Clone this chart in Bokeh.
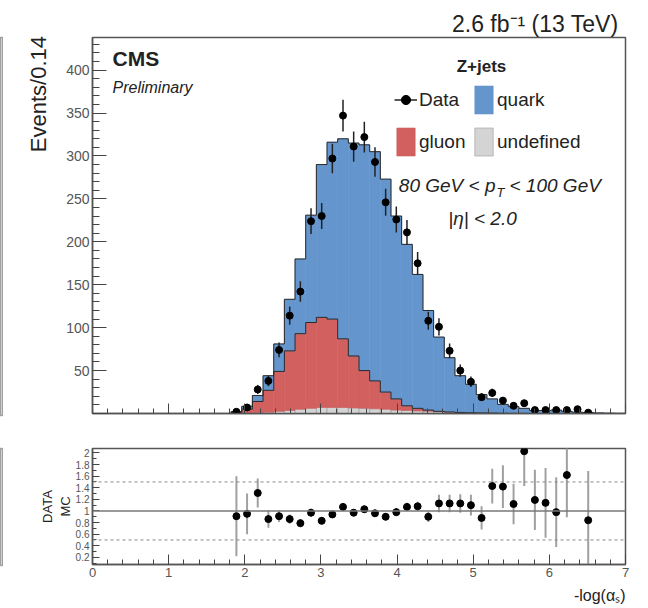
import math
import numpy as np
from bokeh.plotting import figure
from bokeh.layouts import column, row
from bokeh.models import (Label, Legend, LegendItem, FixedTicker, Title,
                          SingleIntervalTicker, Span, Range1d)
from bokeh.embed import file_html
from bokeh.resources import INLINE

FONT = "Liberation Sans"
BLUE = "#6496cd"
RED = "#d2605f"
GRAY = "#d4d4d4"

# ---------------- data (50 bins of width 0.14 on [0, 7]) ----------------
bin_width = 0.14
n_bins = 50
nan = float("nan")

data_counts = [0] * 13 + [
    2, 7, 28, 38, 74, 114, 142, 224, 230, 297,
    347, 311, 322, 293, 246, 226, 211, 175, 108, 101,
    73, 50, 37, 19, 24, 15, 9, 12, 4, 4,
    4, 4, 5, 1] + [0] * 3

quark = [0] * 13 + [
    1.2, 3.4, 7, 17, 32, 60, 87, 125, 178, 206,
    233, 248, 263, 267, 248, 213, 188, 156, 116, 86.5,
    63.2, 42.8, 33.1, 21.3, 16.5, 10.3, 7.8, 5.8, 3.3, 3.4,
    3.9, 2.4, 1.5, 1.2, 0.6, 0.3, 0.1]

gluon = [0] * 13 + [
    0.8, 4.5, 13, 25.5, 46.5, 69.5, 88, 100, 105, 103,
    80, 60.5, 44, 32.5, 20, 13, 5.5, 3, 1.5, 0.5,
    0.3, 0.2, 0.1, 0.1, 0.1, 0, 0, 0, 0, 0,
    0, 0, 0, 0, 0, 0, 0]

undefined = [0] * 13 + [
    0.2, 0.5, 1, 1.5, 2.5, 3.5, 5, 6, 7, 7,
    7, 6.5, 6, 5.5, 5, 4, 3.5, 3, 2.5, 2,
    1.5, 1, 0.8, 0.6, 0.4, 0.3, 0.2, 0.2, 0.1, 0.1,
    0.1, 0.1, 0, 0, 0, 0, 0]

ratio = [nan] * 13 + [
    0.91, 0.95, 1.31, 0.86, 0.91, 0.86, 0.79, 0.97, 0.83, 0.94,
    1.07, 0.97, 1.03, 0.96, 0.90, 0.98, 1.07, 1.08, 0.90, 1.13,
    1.13, 1.13, 1.10, 0.88, 1.43, 1.42, 1.12, 2.03, 1.19, 1.14,
    0.98, 1.62, nan, 0.84] + [nan] * 3

ratio_err = [nan] * 13 + [
    0.69, 0.35, 0.25, 0.15, 0.10, 0.08, 0.07, 0.07, 0.06, 0.06,
    0.06, 0.06, 0.06, 0.06, 0.06, 0.07, 0.07, 0.08, 0.09, 0.15,
    0.15, 0.16, 0.18, 0.20, 0.30, 0.37, 0.35, 0.60, 0.52, 0.60,
    0.60, 0.73, nan, 0.85] + [nan] * 3

x_ticks = [0, 1, 2, 3, 4, 5, 6, 7]
ratio_ticks = [0.2, 0.4, 0.6, 0.8, 1, 1.2, 1.4, 1.6, 1.8, 2]

# ---------------- derived arrays ----------------
edges = np.arange(n_bins + 1) * bin_width
centers = edges[:-1] + bin_width / 2
lefts = edges[:-1]
rights = edges[1:]
u = np.array(undefined, dtype=float)
g = np.array(gluon, dtype=float)
q = np.array(quark, dtype=float)
c0 = u
c1 = u + g
c2 = c1 + q


def ext(a):
    return np.append(a, a[-1])


d = np.array(data_counts, dtype=float)
mask = d > 0
dx = centers[mask]
dy = d[mask]
derr = np.sqrt(dy)

W = 645
LB = 89

# ---------------- main panel ----------------
p = figure(width=W, height=430, x_range=Range1d(0, 7), y_range=Range1d(0, 438),
           output_backend="svg", toolbar_location=None,
           min_border_left=LB, min_border_right=23, min_border_top=37,
           min_border_bottom=15)
p.xgrid.visible = False
p.ygrid.visible = False
p.outline_line_color = "#555555"
p.outline_line_width = 1.5

p.title.text = "2.6 fb\u207b\u00b9 (13 TeV)"
p.title.align = "right"
p.title.text_font = FONT
p.title.text_font_size = "23px"
p.title.text_font_style = "normal"
p.title.text_color = "#222222"
p.title.offset = 7
try:
    p.title.standoff = 2
except Exception:
    pass

zero = np.zeros(n_bins)
ru = p.quad(left=lefts, right=rights, bottom=zero, top=c0,
            fill_color=GRAY, line_color="#9a9a9a", line_width=0.6)
rg = p.quad(left=lefts, right=rights, bottom=c0, top=c1,
            fill_color=RED, line_color=RED, line_width=0.6)
rq = p.quad(left=lefts, right=rights, bottom=c1, top=c2,
            fill_color=BLUE, line_color=BLUE, line_width=0.6)
p.step(x=edges, y=ext(c1), mode="after", line_color="#2a2a2a", line_width=1)
p.step(x=edges, y=ext(c2), mode="after", line_color="#2a2a2a", line_width=1)

err_r = p.segment(x0=dx, x1=dx, y0=dy - derr, y1=dy + derr,
                  line_color="#222222", line_width=1.5)
pts_r = p.scatter(x=dx, y=dy, size=7, marker="circle",
                  fill_color="black", line_color="black")

for ax in p.axis:
    ax.axis_line_color = "#555555"
    ax.axis_line_width = 1.5
    ax.major_tick_line_color = "#444444"
    ax.minor_tick_line_color = "#444444"
    ax.major_label_text_font = FONT
    ax.major_label_text_color = "#555555"

p.yaxis.ticker = SingleIntervalTicker(interval=50, num_minor_ticks=5)
p.yaxis.major_tick_in = 14
p.yaxis.major_tick_out = 0
p.yaxis.minor_tick_in = 7
p.yaxis.minor_tick_out = 0
p.yaxis.major_label_standoff = 3
p.yaxis.major_label_text_font_size = "14px"
p.yaxis.major_label_overrides = {0: " "}
p.yaxis.axis_label_text_font = FONT
p.yaxis.axis_label_text_font_size = "22px"
p.yaxis.axis_label_text_font_style = "normal"
p.yaxis.axis_label_text_color = "#222222"
p.yaxis.axis_label_standoff = 12
# label pushed to the top end of the axis, as ROOT does
p.yaxis.axis_label = "\u00a0" * 43 + "Events/0.14"

p.xaxis.ticker = FixedTicker(ticks=x_ticks,
                             minor_ticks=[i * 0.2 for i in range(36)])
p.xaxis.major_tick_in = 10
p.xaxis.major_tick_out = 0
p.xaxis.minor_tick_in = 5
p.xaxis.minor_tick_out = 0
p.xaxis.major_label_text_font_size = "8px"
p.xaxis.major_label_overrides = {t: " " for t in x_ticks}

leg_common = dict(orientation="horizontal", glyph_width=23, glyph_height=35,
                  label_width=50, label_standoff=2, spacing=3, padding=0,
                  margin=0, border_line_alpha=0, background_fill_alpha=0,
                  label_text_font=FONT, label_text_font_size="19px",
                  label_text_color="#222222")
leg1 = Legend(items=[LegendItem(label="Data", renderers=[err_r, pts_r]),
                     LegendItem(label="quark", renderers=[rq])],
              location=(302, 296), **leg_common)
leg2 = Legend(items=[LegendItem(label="gluon", renderers=[rg]),
                     LegendItem(label="undefined", renderers=[ru])],
              location=(302, 254), **leg_common)
p.add_layout(leg1)
p.add_layout(leg2)

FX0, FY1 = 92, 415


def lab(fig, fx0, fy1, X, Y, text, size, **kw):
    opts = dict(text_font=FONT, text_font_size=f"{size}px",
                text_baseline="middle", text_color="#222222")
    opts.update(kw)
    fig.add_layout(Label(x=X - fx0, y=fy1 - Y, x_units="screen", y_units="screen",
                         text=text, **opts))


lab(p, FX0, FY1, 112, 60, "CMS", 21, text_font_style="bold")
lab(p, FX0, FY1, 112, 89, "Preliminary", 16, text_font_style="italic")
lab(p, FX0, FY1, 481, 68, "Z+jets", 17, text_font_style="bold", text_align="center")
lab(p, FX0, FY1, 495, 187, "80 GeV < p", 19, text_font_style="italic", text_align="right")
lab(p, FX0, FY1, 496, 194, "T", 13, text_font_style="italic")
lab(p, FX0, FY1, 509, 187, "< 100 GeV", 19, text_font_style="italic")
lab(p, FX0, FY1, 482, 220, "|η| < 2.0", 19, text_font_style="italic", text_align="center")

# ---------------- ratio panel ----------------
r = figure(width=W, height=178, x_range=p.x_range, y_range=Range1d(0.077, 2.077),
           output_backend="svg", toolbar_location=None,
           min_border_left=LB, min_border_right=23, min_border_top=18,
           min_border_bottom=43)
r.xgrid.visible = False
r.ygrid.visible = False
r.outline_line_color = "#555555"
r.outline_line_width = 1.5

r.add_layout(Span(location=1, dimension="width", line_color="#777777", line_width=1.5))
r.add_layout(Span(location=1.5, dimension="width", line_color="#888888",
                  line_width=1, line_dash="3 3"))
r.add_layout(Span(location=0.5, dimension="width", line_color="#888888",
                  line_width=1, line_dash="3 3"))

rv = np.array(ratio, dtype=float)
re = np.array(ratio_err, dtype=float)
rm = ~np.isnan(rv)
r.segment(x0=centers[rm], x1=centers[rm], y0=rv[rm] - re[rm], y1=rv[rm] + re[rm],
          line_color="#a0a0a0", line_width=2)
r.scatter(x=centers[rm], y=rv[rm], size=7, marker="circle",
          fill_color="black", line_color="black")

for ax in r.axis:
    ax.axis_line_color = "#555555"
    ax.axis_line_width = 1.5
    ax.major_tick_line_color = "#444444"
    ax.minor_tick_line_color = "#444444"
    ax.major_label_text_font = FONT
    ax.major_label_text_color = "#555555"

r.xaxis.ticker = FixedTicker(ticks=x_ticks,
                             minor_ticks=[i * 0.2 for i in range(36)])
r.xaxis.major_tick_in = 10
r.xaxis.major_tick_out = 0
r.xaxis.minor_tick_in = 5
r.xaxis.minor_tick_out = 0
r.xaxis.major_label_standoff = 3
r.xaxis.major_label_text_font_size = "13px"

r.yaxis.ticker = FixedTicker(ticks=ratio_ticks,
                             minor_ticks=[0.1 + 0.2 * i for i in range(11)])
r.yaxis.major_tick_in = 7
r.yaxis.major_tick_out = 0
r.yaxis.minor_tick_in = 4
r.yaxis.minor_tick_out = 0
r.yaxis.major_label_standoff = 3
r.yaxis.major_label_text_font_size = "10px"
r.yaxis.major_label_overrides = {1: "1", 2: "2"}
r.yaxis.axis_label = "DATA\nMC"
r.yaxis.axis_label_text_font = FONT
r.yaxis.axis_label_text_font_size = "13px"
r.yaxis.axis_label_text_font_style = "normal"
r.yaxis.axis_label_text_color = "#222222"
r.yaxis.axis_label_standoff = 0

xt = Title(text="-log(\u03b1\u209b)", align="right", text_font=FONT,
           text_font_size="16px", text_font_style="normal", text_color="#222222")
r.add_layout(xt, "below")


# ---------------- edge of the neighbouring panel (left) ----------------
def strip(height, top, bottom):
    s = figure(width=3, height=height, output_backend="svg", toolbar_location=None,
               x_axis_location=None, y_axis_location=None,
               min_border_left=0, min_border_right=0,
               min_border_top=top, min_border_bottom=bottom)
    s.xgrid.visible = False
    s.ygrid.visible = False
    s.outline_line_color = "#a0a0a0"
    s.outline_line_width = 1.5
    return s


s1 = strip(430, 37, 15)
s2 = strip(178, 18, 43)

layout = row(column(s1, s2, spacing=0), column(p, r, spacing=0), spacing=0)
open("out.html", "w").write(file_html(layout, INLINE))
